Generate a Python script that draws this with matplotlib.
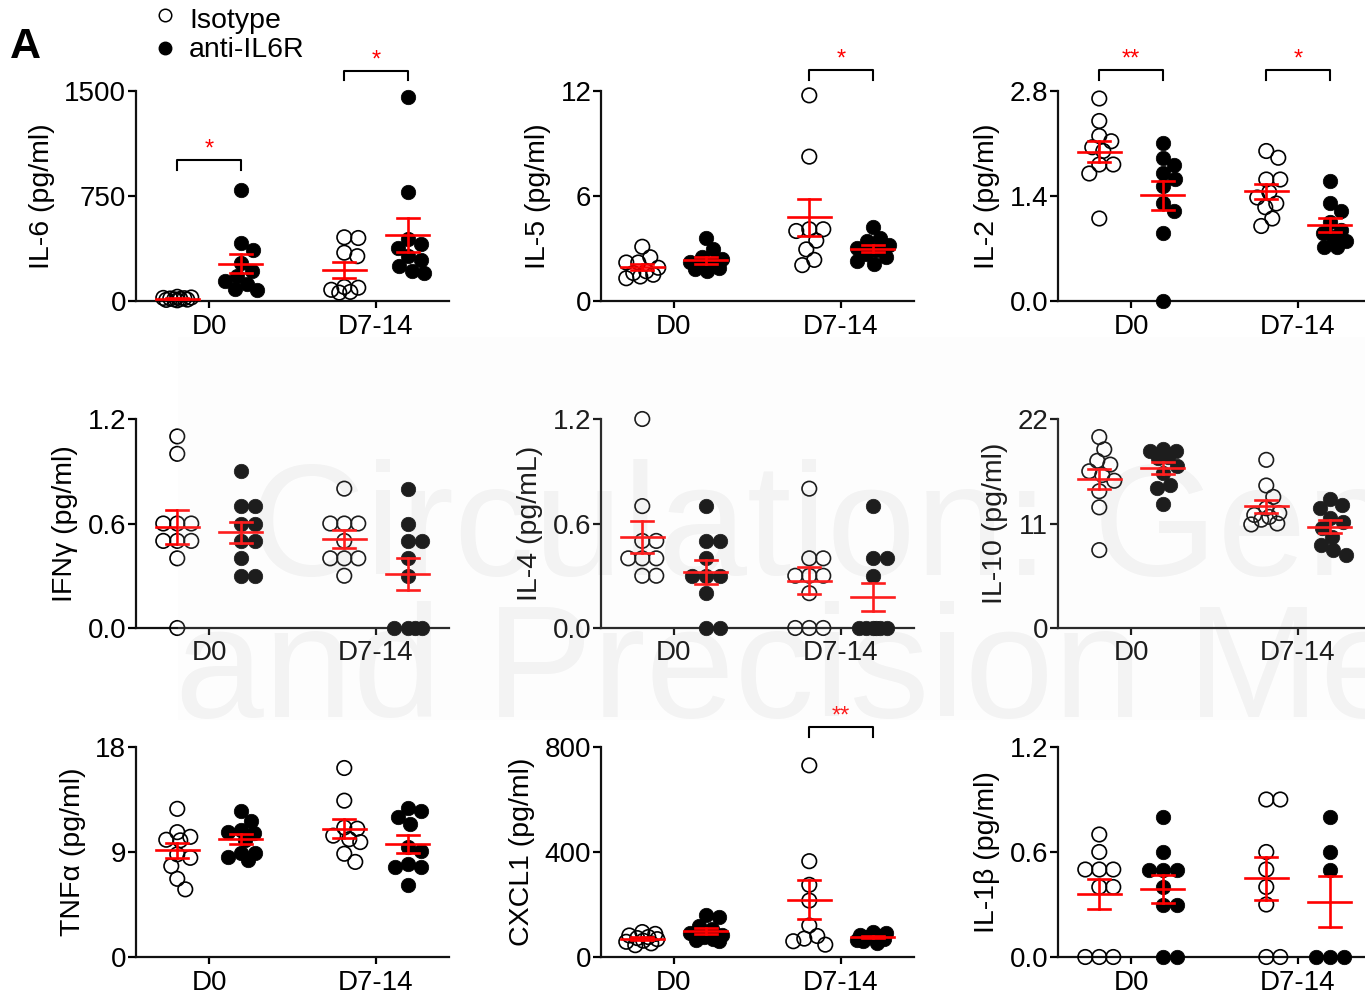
import numpy as np
import matplotlib
matplotlib.use("Agg")
import matplotlib.pyplot as plt
from matplotlib.lines import Line2D
from matplotlib.patches import Rectangle
import matplotlib.transforms as mtransforms

plt.rcParams['font.family'] = ['Liberation Sans', 'DejaVu Sans']

# ---- datos (valores por raton) ----
groups = ['D0', 'D7-14']

il6_iso_d0 = [5, 10, 15, 20, 25, 30, 12, 18, 22, 8]
il6_anti_d0 = [795, 415, 365, 270, 215, 140, 85, 80, 120, 180]
il6_iso_d7 = [455, 450, 345, 320, 100, 95, 65, 60, 80]
il6_anti_d7 = [1460, 775, 440, 405, 380, 320, 295, 250, 215, 200]

il5_iso_d0 = [3.1, 2.5, 2.2, 2.2, 1.9, 1.7, 1.6, 1.5, 1.4, 1.3]
il5_anti_d0 = [3.6, 2.95, 2.5, 2.4, 2.2, 2.1, 2.0, 1.9, 1.8, 1.7]
il5_iso_d7 = [11.75, 8.25, 4.1, 4.0, 4.1, 3.45, 2.95, 2.35, 2.05]
il5_anti_d7 = [4.25, 3.6, 3.4, 3.2, 3.0, 2.9, 2.7, 2.5, 2.3, 2.1]

il2_iso_d0 = [2.7, 2.4, 2.2, 2.13, 2.05, 2.0, 1.82, 1.82, 1.7, 1.1]
il2_anti_d0 = [2.11, 1.91, 1.81, 1.71, 1.62, 1.53, 1.31, 1.2, 0.91, 0.0]
il2_iso_d7 = [2.0, 1.91, 1.62, 1.62, 1.45, 1.38, 1.25, 1.1, 1.0, 1.3]
il2_anti_d7 = [1.6, 1.31, 1.2, 1.05, 0.95, 0.9, 0.85, 0.8, 0.72, 0.72]

ifng_iso_d0 = [1.1, 1.0, 0.6, 0.6, 0.6, 0.5, 0.5, 0.5, 0.4, 0.0]
ifng_anti_d0 = [0.9, 0.7, 0.7, 0.6, 0.6, 0.5, 0.5, 0.4, 0.3, 0.3]
ifng_iso_d7 = [0.8, 0.6, 0.6, 0.6, 0.5, 0.4, 0.4, 0.4, 0.3]
ifng_anti_d7 = [0.8, 0.6, 0.5, 0.5, 0.4, 0.3, 0.0, 0.0, 0.0, 0.0]

il4_iso_d0 = [1.2, 0.7, 0.5, 0.5, 0.4, 0.4, 0.4, 0.3, 0.3]
il4_anti_d0 = [0.7, 0.5, 0.5, 0.4, 0.3, 0.3, 0.3, 0.2, 0.0, 0.0]
il4_iso_d7 = [0.8, 0.4, 0.4, 0.3, 0.3, 0.3, 0.2, 0.0, 0.0, 0.0]
il4_anti_d7 = [0.7, 0.4, 0.4, 0.3, 0.0, 0.0, 0.0, 0.0, 0.0, 0.0]

il10_iso_d0 = [20.1, 18.8, 17.6, 17.2, 16.5, 16.1, 15.5, 14.4, 12.7, 8.2]
il10_anti_d0 = [18.8, 18.6, 18.6, 18.0, 17.9, 17.0, 16.3, 15.1, 14.7, 13.1]
il10_iso_d7 = [17.7, 15.0, 13.8, 12.6, 12.1, 11.9, 11.4, 10.9, 11.0, 11.7]
il10_anti_d7 = [13.56, 12.96, 12.6, 11.6, 11.2, 10.5, 9.6, 8.76, 8.2, 7.7]

tnfa_iso_d0 = [12.7, 10.7, 10.3, 10.05, 10.0, 8.5, 8.8, 7.8, 6.7, 5.8]
tnfa_anti_d0 = [12.5, 11.7, 10.85, 10.7, 10.6, 10.0, 8.9, 8.9, 8.3, 8.6]
tnfa_iso_d7 = [16.2, 13.4, 11.1, 11.0, 10.4, 10.1, 9.85, 8.85, 8.15]
tnfa_anti_d7 = [12.55, 12.8, 12.0, 11.4, 9.4, 9.1, 7.7, 8.0, 7.7, 6.2]

cxcl1_iso_d0 = [95, 88, 82, 76, 72, 68, 62, 58, 52, 45]
cxcl1_anti_d0 = [160, 152, 117, 108, 90, 85, 75, 70, 65, 60]
cxcl1_iso_d7 = [730, 365, 275, 215, 120, 80, 70, 60, 47]
cxcl1_anti_d7 = [95, 90, 85, 80, 78, 75, 70, 65, 60, 55]

il1b_iso_d0 = [0.7, 0.6, 0.5, 0.5, 0.5, 0.4, 0.4, 0.0, 0.0, 0.0]
il1b_anti_d0 = [0.8, 0.6, 0.5, 0.5, 0.5, 0.4, 0.3, 0.3, 0.0, 0.0]
il1b_iso_d7 = [0.9, 0.9, 0.6, 0.5, 0.4, 0.3, 0.0, 0.0]
il1b_anti_d7 = [0.8, 0.6, 0.5, 0.0, 0.0, 0.0]

ylabels = ['IL-6 (pg/ml)', 'IL-5 (pg/ml)', 'IL-2 (pg/ml)',
           'IFNγ (pg/ml)', 'IL-4 (pg/mL)', 'IL-10 (pg/ml)',
           'TNFα (pg/ml)', 'CXCL1 (pg/ml)', 'IL-1β (pg/ml)']
yticks = [[0, 750, 1500], [0, 6, 12], [0.0, 1.4, 2.8],
          [0.0, 0.6, 1.2], [0.0, 0.6, 1.2], [0, 11, 22],
          [0, 9, 18], [0, 400, 800], [0.0, 0.6, 1.2]]
ytick_labels = [['0', '750', '1500'], ['0', '6', '12'], ['0.0', '1.4', '2.8'],
                ['0.0', '0.6', '1.2'], ['0.0', '0.6', '1.2'], ['0', '11', '22'],
                ['0', '9', '18'], ['0', '400', '800'], ['0.0', '0.6', '1.2']]

# (panel, grupo, etiqueta)
signif = [(0, 0, '*'), (0, 1, '*'), (1, 1, '*'), (2, 0, '**'), (2, 1, '*'), (7, 1, '**')]

panels = [
    [il6_iso_d0, il6_anti_d0, il6_iso_d7, il6_anti_d7],
    [il5_iso_d0, il5_anti_d0, il5_iso_d7, il5_anti_d7],
    [il2_iso_d0, il2_anti_d0, il2_iso_d7, il2_anti_d7],
    [ifng_iso_d0, ifng_anti_d0, ifng_iso_d7, ifng_anti_d7],
    [il4_iso_d0, il4_anti_d0, il4_iso_d7, il4_anti_d7],
    [il10_iso_d0, il10_anti_d0, il10_iso_d7, il10_anti_d7],
    [tnfa_iso_d0, tnfa_anti_d0, tnfa_iso_d7, tnfa_anti_d7],
    [cxcl1_iso_d0, cxcl1_anti_d0, cxcl1_iso_d7, cxcl1_anti_d7],
    [il1b_iso_d0, il1b_anti_d0, il1b_iso_d7, il1b_anti_d7],
]

# ---- layout ----
W, H = 1365, 997
fig = plt.figure(figsize=(W / 100, H / 100), dpi=100)

lefts = [136, 601, 1058]
tops = [91, 419, 747]
bottoms = [301, 628, 957]
wpx = 313
OFF = 0.19
DIAM = 14.5   # diametro del marcador en px
MAXOFF = 16   # desplazamiento horizontal maximo en px
FS = 20


def swarm(ax, x0, vals):
    # reparte los puntos a lo ancho (tipo GraphPad), con ancho maximo
    pts = ax.transData.transform(np.column_stack([np.full(len(vals), x0), vals]))
    ys = pts[:, 1]
    cand = [0.0]
    for k in np.arange(1, MAXOFF + 1) * 1.0:
        cand += [k, -k]
    placed = []
    offs = np.zeros(len(vals))
    for i in np.argsort(-ys, kind='stable'):
        best, best_d = 0.0, -1
        for c in cand:
            d = min([np.hypot(c - ox, ys[i] - oy) for ox, oy in placed] + [1e9])
            if d >= 0.9 * DIAM:
                best = c
                break
            if d > best_d + 0.5:
                best, best_d = c, d
        offs[i] = best
        placed.append((best, ys[i]))
    ppu = ax.transData.transform((1, 0))[0] - ax.transData.transform((0, 0))[0]
    return x0 + offs / ppu


axes = []
for p in range(9):
    r, c = divmod(p, 3)
    ax = fig.add_axes([lefts[c] / W, 1 - bottoms[r] / H, wpx / W, (bottoms[r] - tops[r]) / H])
    ax.set_facecolor('none')
    ax.set_xlim(1 - 73 / 167, 1 - 73 / 167 + wpx / 167)
    ax.set_ylim(0, yticks[p][-1])
    for s in ['top', 'right']:
        ax.spines[s].set_visible(False)
    for s in ['left', 'bottom']:
        ax.spines[s].set_linewidth(1.6)
        ax.spines[s].set_color('#111111')
    ax.set_yticks(yticks[p])
    ax.set_yticklabels(ytick_labels[p])
    ax.set_xticks([1, 2])
    ax.set_xticklabels(groups)
    ax.tick_params(axis='y', direction='out', length=6, width=1.6, labelsize=FS, pad=1)
    ax.tick_params(axis='x', direction='out', length=5, width=1.6, labelsize=FS, pad=4)
    ax.set_ylabel(ylabels[p], fontsize=FS + 0.5, labelpad=7)

    for g, vals in enumerate(panels[p]):
        vals = np.asarray(vals, dtype=float)
        x0 = (1 + g // 2) + (OFF if g % 2 else -OFF)
        xs = swarm(ax, x0, vals)
        if g % 2 == 0:
            ax.scatter(xs, vals, s=(DIAM * 0.72) ** 2, facecolor='none', edgecolor='black',
                       linewidth=1.2, clip_on=False, zorder=3)
        else:
            ax.scatter(xs, vals, s=(DIAM * 0.72) ** 2, facecolor='black', edgecolor='black',
                       linewidth=0.5, clip_on=False, zorder=3)
        m = vals.mean()
        se = vals.std(ddof=1) / np.sqrt(len(vals))
        ax.plot([x0 - 0.13, x0 + 0.13], [m, m], color='red', lw=1.9, zorder=5, clip_on=False)
        ax.plot([x0, x0], [m - se, m + se], color='red', lw=1.9, zorder=5, clip_on=False)
        for yy in (m - se, m + se):
            ax.plot([x0 - 0.066, x0 + 0.066], [yy, yy], color='red', lw=1.9, zorder=5, clip_on=False)
    axes.append(ax)

# corchetes de significancia (altura en fraccion del eje)
bracket_y = {(0, 0): (0.671, 0.624), (0, 1): (1.095, 1.052), (1, 1): (1.1, 1.052),
             (2, 0): (1.1, 1.052), (2, 1): (1.1, 1.052), (7, 1): (1.095, 1.048)}
for p, g, lab in signif:
    ax = axes[p]
    tr = mtransforms.blended_transform_factory(ax.transData, ax.transAxes)
    x1, x2 = 1 + g - OFF, 1 + g + OFF
    yt, yb = bracket_y[(p, g)]
    ax.plot([x1, x1, x2, x2], [yb, yt, yt, yb], color='black', lw=1.5, transform=tr, clip_on=False)
    ax.text((x1 + x2) / 2, yt + 0.02, lab, color='red', fontsize=17, ha='center', va='baseline',
            transform=tr)

# leyenda
fig.add_artist(Line2D([165 / W], [1 - 15 / H], marker='o', markersize=9, markerfacecolor='white',
                      markeredgecolor='black', markeredgewidth=1.1, linestyle='none'))
fig.add_artist(Line2D([165 / W], [1 - 48 / H], marker='o', markersize=9, markerfacecolor='black',
                      markeredgecolor='black', linestyle='none'))
fig.text(189 / W, 1 - 28 / H, 'Isotype', fontsize=FS + 0.5, va='baseline', ha='left')
fig.text(189 / W, 1 - 57 / H, 'anti-IL6R', fontsize=FS + 0.5, va='baseline', ha='left')
fig.text(10 / W, 1 - 58 / H, 'A', fontsize=31, fontweight='bold', va='baseline', ha='left')

# marca de agua de la revista
fig.text(250 / W, 1 - 575 / H, 'Circulation: Genomic', fontsize=115, color='#f3f3f3',
         va='baseline', ha='left', zorder=-5)
fig.text(175 / W, 1 - 717 / H, 'and Precision Medicine', fontsize=115, color='#f3f3f3',
         va='baseline', ha='left', zorder=-5)
fig.add_artist(Rectangle((178 / W, 1 - 720 / H), 1 - 178 / W, 383 / H, transform=fig.transFigure,
                         facecolor='#f6f6f6', edgecolor='none', alpha=0.12, zorder=20))

fig.savefig('out.png', dpi=100)
